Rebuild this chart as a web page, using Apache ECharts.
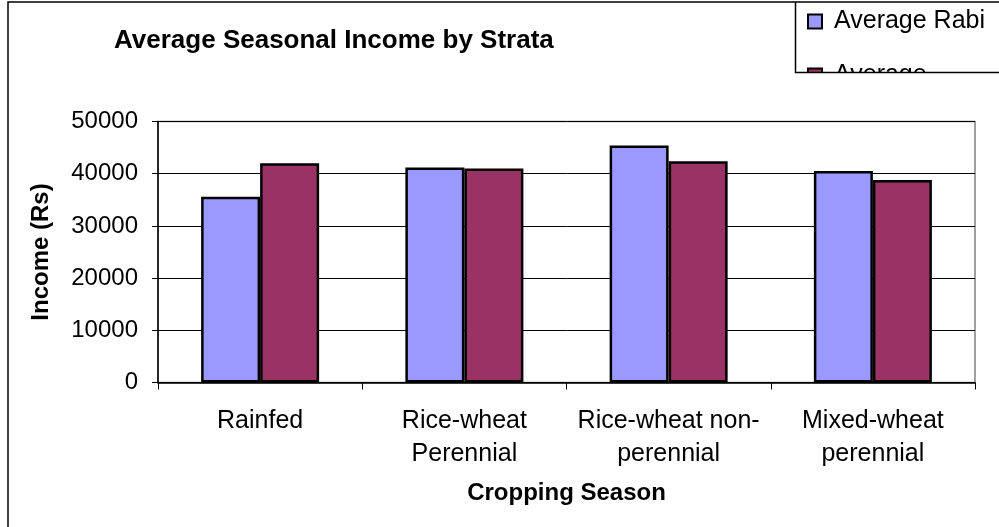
<!DOCTYPE html>
<html>
<head>
<meta charset="utf-8">
<script src="https://cdn.jsdelivr.net/npm/echarts@6/dist/echarts.min.js"></script>
<style>
html,body{margin:0;padding:0;background:#fff;}
#c{width:999px;height:527px;}
</style>
</head>
<body>
<div id="c"></div>
<script>
const categories = ["Rainfed", "Rice-wheat\nPerennial", "Rice-wheat non-\nperennial", "Mixed-wheat\nperennial"];
const rabiValues = [35600, 41200, 45400, 40500];
const kharifValues = [42000, 41000, 42400, 38800];
const seriesNames = ["Average Rabi", "Average Kharif"];
const yTicks = { min: 0, max: 50000, interval: 10000 };

const chart = echarts.init(document.getElementById('c'), null, { renderer: 'canvas' });
const FF = '"Liberation Sans", Arial, sans-serif';
chart.setOption({
  backgroundColor: '#fff',
  animation: false,
  title: {
    text: 'Average Seasonal Income by Strata',
    left: 114, top: 28, padding: 0,
    textStyle: { fontFamily: FF, fontSize: 26, fontWeight: 'bold', color: '#000' }
  },
  legend: {
    orient: 'vertical',
    left: 807, top: 9, padding: 0,
    itemWidth: 14, itemHeight: 14, itemGap: 29,
    icon: 'rect',
    textStyle: { fontFamily: FF, fontSize: 25, color: '#000', padding: [0, 0, 0, 7] },
    itemStyle: { borderColor: '#000', borderWidth: 2 },
    data: [
      { name: seriesNames[0] },
      { name: seriesNames[1], textStyle: { width: 95, overflow: 'truncate', ellipsis: '' } }
    ]
  },
  grid: {
    left: 158, right: 24, top: 121.5, bottom: 144.5,
    show: true, borderColor: '#808080', borderWidth: 1.5, backgroundColor: 'transparent'
  },
  xAxis: {
    type: 'category',
    data: categories,
    name: 'Cropping Season',
    nameLocation: 'middle',
    nameGap: 99,
    nameTextStyle: { fontFamily: FF, fontSize: 24, fontWeight: 'bold', color: '#000' },
    axisLine: { lineStyle: { color: '#000', width: 1.5 } },
    axisTick: { show: true, length: 7, lineStyle: { color: '#000' } },
    axisLabel: { fontFamily: FF, fontSize: 25, color: '#000', margin: 22, lineHeight: 33, interval: 0 }
  },
  yAxis: {
    type: 'value',
    min: yTicks.min, max: yTicks.max, interval: yTicks.interval,
    name: 'Income (Rs)',
    nameLocation: 'middle',
    nameGap: 105,
    nameTextStyle: { fontFamily: FF, fontSize: 24, fontWeight: 'bold', color: '#000' },
    axisLine: { show: true, lineStyle: { color: '#000', width: 1.5 } },
    axisTick: { show: true, length: 6, lineStyle: { color: '#000' } },
    axisLabel: { fontFamily: FF, fontSize: 24, color: '#000', margin: 20, formatter: v => String(v) },
    splitLine: { show: true, lineStyle: { color: '#000', width: 1 } }
  },
  series: [
    {
      name: seriesNames[0], type: 'bar', data: rabiValues,
      barWidth: 59, barGap: '0%',
      itemStyle: { color: '#9999FF', borderColor: '#000', borderWidth: 2.5 }
    },
    {
      name: seriesNames[1], type: 'bar', data: kharifValues,
      barWidth: 59, barGap: '0%',
      itemStyle: { color: '#993366', borderColor: '#000', borderWidth: 2.5 }
    }
  ],
  graphic: [
    { type: 'rect', z: 100, shape: { x: 796, y: 73, width: 203, height: 40 }, style: { fill: '#fff' } },
    { type: 'polyline', z: 101, shape: { points: [[8, 527], [8, 2], [999, 2]] }, style: { stroke: '#000', lineWidth: 1.5, fill: null } },
    { type: 'polyline', z: 101, shape: { points: [[795.5, 2], [795.5, 72.5], [999, 72.5]] }, style: { stroke: '#000', lineWidth: 1.5, fill: null } }
  ]
});
</script>
</body>
</html>
